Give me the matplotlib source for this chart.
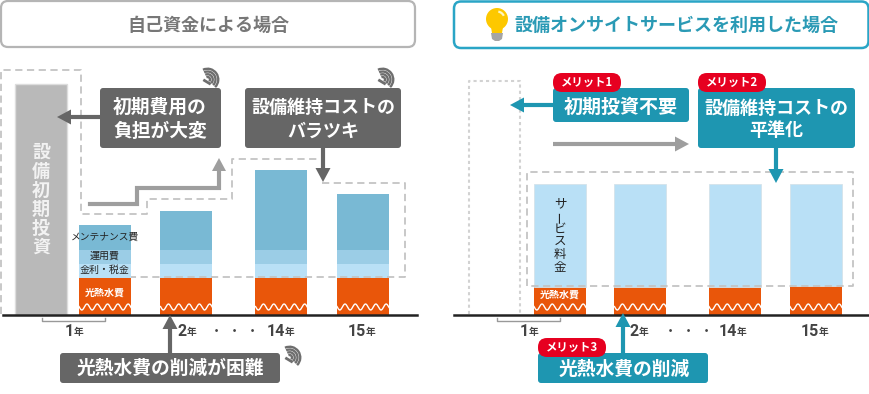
import numpy as np
import matplotlib
matplotlib.use("Agg")
import matplotlib.pyplot as plt
from matplotlib.patches import FancyBboxPatch, Polygon, Circle, Arc

plt.rcParams["font.family"] = ["Noto Sans CJK JP", "DejaVu Sans"]

# bar heights (baseline = 0)
left_x = [105, 186.5, 281.5, 363]
energy_left = [37, 37, 37, 37]
tax_left = [14, 14, 14, 14]
ops_left = [14, 14, 14, 14]
maint_left = [25, 39, 80, 56]
initial_x = 41
initial_h = 231

right_x = [560, 640.5, 735, 816]
energy_right = [28, 28, 28, 29]
service_right = [103, 103, 103, 102]

year_labels = ["1", "2", "14", "15"]
left_year_x = [65, 178, 267, 348]
right_year_x = [520, 630, 719, 801]

ORANGE = "#e9560a"
MAINT = "#79b9d4"
OPS = "#9bcde6"
TAX = "#b9e0f6"
DARK = "#666666"
TEAL = "#1e96b1"
RED = "#e60020"
GREY = "#9e9e9e"
DASH = "#c4c4c4"

BASE = 315


def py(v):
    # pixel row of the reference -> data y
    return BASE - v


fig = plt.figure(figsize=(8.7, 3.94), dpi=100)
ax = fig.add_axes([0, 0, 1, 1])
ax.set_xlim(0, 870)
ax.set_ylim(-79, 315)
ax.axis("off")


def rbox(x0, y0, x1, y1, fc, ec="none", lw=0, r=3, z=5):
    ax.add_patch(FancyBboxPatch((x0, py(y1)), x1 - x0, y1 - y0,
                                boxstyle=f"round,pad=0,rounding_size={r}",
                                fc=fc, ec=ec, lw=lw, zorder=z))


def arrow(x0, y0, x1, y1, color, lw=3.0, head=14, half=7.5, z=6):
    # straight arrow in pixel coordinates
    d = np.array([x1 - x0, y1 - y0], dtype=float)
    d /= np.hypot(*d)
    n = np.array([-d[1], d[0]])
    tip = np.array([x1, y1])
    b = tip - d * head
    ax.plot([x0, b[0]], [py(y0), py(b[1])], color=color, lw=lw,
            solid_capstyle="butt", zorder=z)
    pts = [tip, b + n * half, b - n * half]
    ax.add_patch(Polygon([(p[0], py(p[1])) for p in pts], fc=color, ec="none", zorder=z))


def dashed(xs, ys, ls=(0, (4, 2.5)), color=DASH, lw=1.3, z=4):
    ax.plot(xs, [py(v) for v in ys], color=color, lw=lw, linestyle=ls, zorder=z)


def waves(xc, width=52):
    t = np.linspace(xc - width / 2, xc + width / 2, 160)
    ax.plot(t, 8 + 3 * np.sin((t - xc) * 2 * np.pi / 10.3), color="white",
            lw=1.0, zorder=3)


def coil(cx, cy):
    # little scribble mark next to the grey callouts
    for d in [5, 10.5, 16, 21.5]:
        ax.add_patch(Arc((cx - 4, py(cy + 5)), d, d, theta1=-45, theta2=115,
                         color="#6e6e6e", lw=1.7, zorder=5))
    ax.plot([cx - 7, cx - 2], [py(cy + 6), py(cy + 9)], color="#6e6e6e", lw=2, zorder=5)


def year(x, num):
    ax.text(x, py(331), num, family="Roboto", fontweight="bold", fontsize=11.5,
            color="#444444", ha="left", va="center", zorder=5)
    ax.text(x + 8.6 * len(num) + 0.5, py(332), "年", fontsize=7, fontweight="bold",
            color="#444444", ha="left", va="center", zorder=5)


def callout(x, y, s, size=13):
    ax.text(x, py(y), s, color="white", fontsize=size, fontweight="bold",
            ha="center", va="center", zorder=7)


# headers
rbox(1, 1, 415, 47, "white", "#b5b5b5", 1.6, r=7)
ax.text(208, py(25), "自己資金による場合", color="#777777", fontsize=13,
        fontweight="bold", ha="center", va="center", zorder=7)
rbox(454, 1.5, 868.5, 48, "white", "#2aa5c6", 1.8, r=7)
ax.text(676.5, py(25), "設備オンサイトサービスを利用した場合", color="#2a9ab5",
        fontsize=13, fontweight="bold", ha="center", va="center", zorder=7)

# bulb
ax.add_patch(Circle((497, py(19)), 11, fc="#fdc800", ec="none", zorder=6))
ax.add_patch(Polygon([(491, py(27)), (503, py(27)), (502, py(33)), (492, py(33))],
                     fc="#fdc800", ec="none", zorder=6))
ax.add_patch(Arc((497, py(19)), 15, 15, theta1=25, theta2=80, color="#fff6c0", lw=1.6, zorder=7))
ax.add_patch(Polygon([(491, py(33)), (503, py(33)), (502, py(39)), (499, py(41)), (495, py(41)),
                      (492, py(39))], fc="#a5a5a5", ec="none", zorder=6))

# left panel bars
ax.bar([initial_x], [initial_h], width=52, color="#b9b9b9", edgecolor="#dddddd",
       lw=1, zorder=2)
ax.bar(left_x, energy_left, width=52, color=ORANGE, zorder=2)
b = np.array(energy_left)
ax.bar(left_x, tax_left, width=52, bottom=b, color=TAX, zorder=2)
b = b + np.array(tax_left)
ax.bar(left_x, ops_left, width=52, bottom=b, color=OPS, zorder=2)
b = b + np.array(ops_left)
ax.bar(left_x, maint_left, width=52, bottom=b, color=MAINT, zorder=2)
for x in left_x:
    waves(x)

# right panel bars
ax.bar(right_x, energy_right, width=52, color=ORANGE, zorder=2)
ax.bar(right_x, service_right, width=52, bottom=energy_right, color=TAX,
       edgecolor="#d5e3ea", lw=0.6, zorder=2)
for x in right_x:
    waves(x)

# baselines
ax.plot([3, 417], [0, 0], color="#222222", lw=1.8, zorder=6)
ax.plot([454, 870], [0, 0], color="#222222", lw=1.8, zorder=6)

# brackets under year 1
for x0, x1 in [(42, 105), (497, 560)]:
    ax.plot([x0, x0, x1, x1], [py(318), py(321), py(321), py(318)], color="#999999",
            lw=1, zorder=4)

for x, n in zip(left_year_x, year_labels):
    year(x, n)
for x, n in zip(right_year_x, year_labels):
    year(x, n)
for x in [216, 234, 252, 670, 688, 706]:
    ax.text(x, py(331), "・", fontsize=8, color="#444444", ha="center",
            va="center", fontweight="bold", zorder=5)

# dashed outlines, left
dashed([1, 1, 81, 81, 147, 147, 232, 232, 320], [314, 70, 70, 214, 214, 199, 199, 159, 159])
dashed([322, 405, 405, 131], [183, 183, 277, 277])
# dashed outlines, right
dashed([469, 469, 520, 520], [314, 81, 81, 314], ls=(0, (1.5, 1.5)), lw=1.5, color="#d2d2d2")
dashed([527, 527, 853, 853, 527], [286, 172, 172, 286, 286])

# step arrow
ax.plot([90, 137, 137, 219, 219], [py(204), py(204), py(188), py(188), py(168)],
        color=GREY, lw=3.0, solid_joinstyle="miter", zorder=3)
ax.add_patch(Polygon([(219, py(158)), (212, py(171)), (226, py(171))], fc=GREY,
                     ec="none", zorder=3))

# left callouts
arrow(100, 117, 57, 117, DARK)
rbox(100, 88, 221, 148, DARK)
callout(160, 107.5, "初期費用の", 13.5)
callout(160, 131, "負担が大変", 13.5)
arrow(323, 148, 323, 182, DARK)
rbox(245, 88, 401, 148, DARK)
callout(323, 107.5, "設備維持コストの")
callout(323, 131, "バラツキ")
arrow(170, 353, 170, 315, DARK)
rbox(60, 353, 280, 383, DARK)
callout(170, 368, "光熱水費の削減が困難", 13.5)
coil(211.5, 74.5)
coil(386.5, 74.5)
coil(293.5, 352.5)

# right callouts
arrow(553, 105, 510, 105, TEAL)
rbox(553, 88, 689, 122, TEAL)
callout(621, 107, "初期投資不要", 13.7)
arrow(553, 144, 689, 144, GREY)
arrow(776, 148, 776, 183, TEAL)
rbox(698, 88, 855, 148, TEAL)
callout(776.5, 108, "設備維持コストの")
callout(776.5, 130, "平準化")
arrow(623, 353, 623, 313, TEAL)
rbox(538, 353, 708, 383, TEAL)
callout(624, 369, "光熱水費の削減", 13.5)

# merit pills
for x0, y0, s in [(553, 73, "メリット1"), (698, 73, "メリット2"), (538, 338, "メリット3")]:
    rbox(x0, y0, x0 + 68, y0 + 19, RED, r=9, z=8)
    ax.text(x0 + 34, py(y0 + 9.5), s, color="white", fontsize=8.2, fontweight="bold",
            ha="center", va="center", zorder=9)

# labels inside bars
for i, c in enumerate("設備初期投資"):
    ax.text(41, py(152 + i * 19), c, color="#f2f2f2", fontsize=13, fontweight="bold",
            ha="center", va="center", zorder=5)
ax.text(105, py(237), "メンテナンス費", color="#222222", fontsize=7, ha="center",
        va="center", zorder=5)
ax.text(105, py(256), "運用費", color="#222222", fontsize=7.2, ha="center", va="center", zorder=5)
ax.text(105, py(270), "金利・税金", color="#222222", fontsize=7.2, ha="center", va="center", zorder=5)
ax.text(105, py(293), "光熱水費", color="white", fontsize=7.2, fontweight="bold", ha="center",
        va="center", zorder=5)
ax.text(560, py(295), "光熱水費", color="white", fontsize=7.2, fontweight="bold", ha="center",
        va="center", zorder=5)
for i, c in enumerate("サービス料金"):
    ax.text(560, py(204 + i * 12.6), c, color="#222222", fontsize=9, ha="center",
            va="center", rotation=90 if c == "ー" else 0, zorder=5)

fig.savefig("out.png", dpi=100, facecolor="white")
